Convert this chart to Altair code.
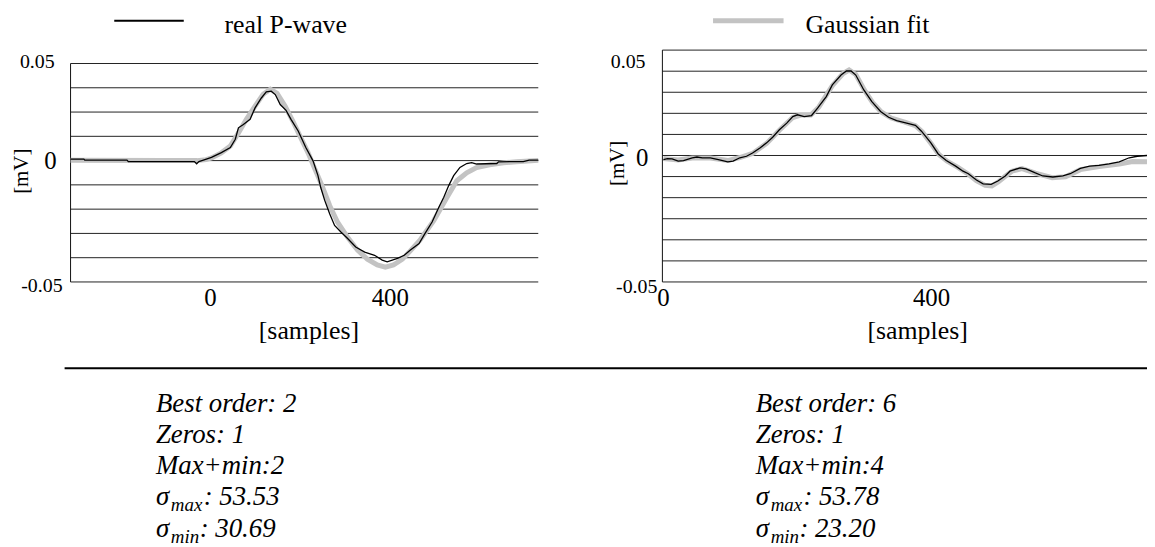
import altair as alt
import pandas as pd

# ---------------- data ----------------
left_real_s = [-311.6, -282, -280, -186, -183, -36, -31, -26, -16, 2,
               24, 44, 55, 62, 73, 88, 99, 113, 124, 135,
               144, 155, 168, 179, 195, 212, 228, 239, 245, 254,
               265, 276, 290, 305, 323, 343, 365, 382, 393, 416,
               431, 444, 464, 477, 493, 508, 519, 530, 541, 555,
               570, 581, 592, 637, 641, 696, 709, 729.3]
left_real_v = [0.0006, 0.0006, 0.0002, 0.0002, -0.0004, -0.0004, -0.0013, -0.0004, 0.0002, 0.0013,
               0.0033, 0.0054, 0.0088, 0.0135, 0.0149, 0.0170, 0.0217, 0.0258, 0.0283, 0.0286,
               0.0272, 0.0231, 0.0207, 0.0170, 0.0122, 0.0054, -0.0001, -0.0062, -0.0110, -0.0164,
               -0.0219, -0.0267, -0.0294, -0.0321, -0.0356, -0.0377, -0.0390, -0.0410, -0.0417, -0.0403,
               -0.0390, -0.0369, -0.0342, -0.0301, -0.0253, -0.0192, -0.0151, -0.0103, -0.0062, -0.0028,
               -0.0012, -0.0008, -0.0014, -0.0012, -0.0005, -0.0004, 0.0002, 0.0002]

left_fit_s = [-311.6, -100, -30, -10, 2, 24, 44, 62, 80, 99,
              117, 133, 148, 166, 183, 199, 217, 232, 248, 265,
              283, 305, 327, 349, 371, 389, 407, 427, 444, 466,
              497, 526, 548, 570, 592, 621, 652, 681, 729.3]
left_fit_v = [0.0001, 0.0, 0.0, 0.0004, 0.0011, 0.0032, 0.0060, 0.0114, 0.0171, 0.0224,
              0.0273, 0.0294, 0.0277, 0.0224, 0.0163, 0.0101, 0.0032, -0.0034, -0.0103, -0.0185,
              -0.0255, -0.0316, -0.0369, -0.0406, -0.0430, -0.0439, -0.0430, -0.0406, -0.0373, -0.0328,
              -0.0246, -0.0152, -0.0083, -0.0050, -0.0029, -0.0017, -0.0009, -0.0005, 0.0001]

right_real_s = [0, 6, 13, 22, 30, 43, 50, 58, 70, 82,
                96, 104, 114, 124, 133, 144, 154, 163, 173, 184,
                193, 200, 210, 221, 230, 243, 252, 265, 273, 280,
                287, 299, 311, 324, 336, 348, 363, 376, 385, 399,
                410, 422, 436, 447, 455, 467, 477, 489, 499, 510,
                517, 532, 541, 554, 566, 581, 596, 607, 622, 636,
                650, 665, 680, 695, 707, 721.5]
right_real_v = [-0.0016, -0.0012, -0.0013, -0.0022, -0.0020, -0.0009, -0.0006, -0.0009, -0.0009, -0.0016,
                -0.0025, -0.0022, -0.0009, -0.0003, 0.0010, 0.0030, 0.0050, 0.0072, 0.0102, 0.0128,
                0.0154, 0.0161, 0.0154, 0.0158, 0.0187, 0.0233, 0.0279, 0.0318, 0.0334, 0.0334,
                0.0318, 0.0259, 0.0213, 0.0174, 0.0151, 0.0138, 0.0128, 0.0119, 0.0096, 0.0050,
                0.0006, -0.0020, -0.0042, -0.0062, -0.0072, -0.0097, -0.0112, -0.0114, -0.0101, -0.0081,
                -0.0062, -0.0049, -0.0053, -0.0068, -0.0081, -0.0085, -0.0081, -0.0072, -0.0051, -0.0042,
                -0.0039, -0.0033, -0.0025, -0.0009, -0.0003, 0.0]

right_fit_s = [0, 22, 43, 70, 96, 114, 133, 154, 173, 193,
               205, 220, 232, 252, 268, 277, 287, 300, 312, 325,
               340, 360, 376, 386, 399, 411, 423, 440, 455, 467,
               480, 490, 500, 510, 520, 535, 555, 580, 600, 622,
               650, 680, 700, 721.5]
right_fit_v = [-0.0012, -0.0018, -0.0010, -0.0010, -0.0020, -0.0008, 0.0008, 0.0048, 0.0100, 0.0150,
               0.0160, 0.0160, 0.0192, 0.0276, 0.0324, 0.0338, 0.0320, 0.0258, 0.0210, 0.0172,
               0.0148, 0.0132, 0.0118, 0.0094, 0.0048, 0.0004, -0.0022, -0.0048, -0.0074, -0.0100,
               -0.0118, -0.0120, -0.0104, -0.0082, -0.0062, -0.0052, -0.0070, -0.0088, -0.0084, -0.0056,
               -0.0044, -0.0034, -0.0024, -0.0025]

left_grid = [-0.05, -0.04, -0.03, -0.02, -0.01, 0.0, 0.01, 0.02, 0.03, 0.04]
right_grid = [-0.05, -0.04167, -0.03333, -0.025, -0.01667, -0.00833, 0.0,
              0.00833, 0.01667, 0.025, 0.03333, 0.04167]

left_xdomain = [-311.6, 729.3]
right_xdomain = [-1.5, 721.5]
left_ydomain = [-0.05, 0.04]
right_ydomain = [-0.05, 0.04167]

x_tick_values = [0, 400]
x_tick_labels = ["0", "400"]
y_tick_labels = ["0.05", "0", "-0.05"]

legend_labels = ["real P-wave", "Gaussian fit"]
axis_titles = ["[mV]", "[samples]"]
left_stats = ["Best order: 2", "Zeros: 1", "Max+min:2"]
right_stats = ["Best order: 6", "Zeros: 1", "Max+min:4"]
sigma_subs = ["max", "min"]
left_sigma_vals = [": 53.53", ": 30.69"]
right_sigma_vals = [": 53.78", ": 23.20"]

FONT = "Times New Roman"
TOP = 8          # top padding of the view (px)
one = pd.DataFrame({"k": [0]})


def Y(v):
    return v - TOP


def panel(real_s, real_v, fit_s, fit_v, grid, xdom, xrng, ydom, yrng, lab):
    xs = alt.Scale(domain=xdom, range=xrng, nice=False, zero=False)
    ys = alt.Scale(domain=ydom, range=[Y(yrng[0]), Y(yrng[1])], nice=False, zero=False)
    real = pd.DataFrame({"s": real_s, "v": real_v})
    fit = pd.DataFrame({"s": fit_s, "v": fit_v})
    gdf = pd.DataFrame({"v": grid})
    xt = pd.DataFrame({"s": x_tick_values, "t": x_tick_labels})

    layers = []
    layers.append(alt.Chart(gdf).mark_rule(color="#222222", strokeWidth=1).encode(
        y=alt.Y("v:Q", scale=ys, axis=None),
        x=alt.X(datum=xdom[0], scale=xs, axis=None),
        x2=alt.X2(datum=xdom[1]),
    ))
    layers.append(alt.Chart(one).mark_rule(color="#111111", strokeWidth=1).encode(
        x=alt.X(datum=xdom[0], scale=xs, axis=None),
        y=alt.Y(datum=ydom[0], scale=ys, axis=None),
        y2=alt.Y2(datum=ydom[1]),
    ))
    layers.append(alt.Chart(fit).mark_line(color="#c3c3c3", strokeWidth=5).encode(
        x=alt.X("s:Q", scale=xs, axis=None),
        y=alt.Y("v:Q", scale=ys, axis=None),
    ))
    layers.append(alt.Chart(real).mark_line(color="#000000", strokeWidth=1.3).encode(
        x=alt.X("s:Q", scale=xs, axis=None),
        y=alt.Y("v:Q", scale=ys, axis=None),
    ))
    layers.append(alt.Chart(xt).mark_text(font=FONT, fontSize=25, align="center",
                                           baseline="alphabetic", color="black").encode(
        x=alt.X("s:Q", scale=xs, axis=None),
        y=alt.value(Y(298)),
        text="t:N",
    ))
    tick_vals = [ydom[1], 0.0, ydom[0]]
    for i, (val, txt) in enumerate(zip(tick_vals, y_tick_labels)):
        fs, dx, dy = lab[i]
        layers.append(alt.Chart(one).mark_text(font=FONT, fontSize=fs, align="right",
                                               baseline="alphabetic", dx=dx, dy=dy,
                                               color="black").encode(
            x=alt.X(datum=xdom[0], scale=xs, axis=None),
            y=alt.Y(datum=val, scale=ys, axis=None),
            text=alt.value(txt),
        ))
    return alt.layer(*layers)


left_panel = panel(left_real_s, left_real_v, left_fit_s, left_fit_v, left_grid,
                   left_xdomain, [63, 534], left_ydomain, [274, 54],
                   [(20, -16, 4.6), (25, -14, 8.4), (20, -8, 10.6)])
right_panel = panel(right_real_s, right_real_v, right_fit_s, right_fit_v, right_grid,
                    right_xdomain, [659, 1147], right_ydomain, [274, 40.5],
                    [(20, -17, 18), (25, -14, 11), (20, -5, 11.6)])

ann = []


def txt(t, x, y, fs, style="normal", align="left", angle=0, baseline="alphabetic"):
    kw = dict(font=FONT, fontSize=fs, fontStyle=style, align=align,
              baseline=baseline, color="black")
    if angle:
        kw["angle"] = angle
    return alt.Chart(one).mark_text(**kw).encode(
        x=alt.value(x), y=alt.value(Y(y)), text=alt.value(t))


# legend
ann.append(alt.Chart(one).mark_rule(color="black", strokeWidth=2).encode(
    x=alt.value(107), x2=alt.value(177), y=alt.value(Y(11))))
ann.append(txt(legend_labels[0], 218, 23.5, 26))
ann.append(alt.Chart(one).mark_rule(color="#c3c3c3", strokeWidth=5).encode(
    x=alt.value(710), x2=alt.value(781), y=alt.value(Y(11))))
ann.append(txt(legend_labels[1], 803, 23.5, 26))

# axis titles
ann.append(txt(axis_titles[0], 14, 162.5, 21, align="center", angle=270, baseline="middle"))
ann.append(txt(axis_titles[0], 614, 154.5, 21, align="center", angle=270, baseline="middle"))
ann.append(txt(axis_titles[1], 303, 331, 26, align="center"))
ann.append(txt(axis_titles[1], 916, 331, 26, align="center"))

# separator rule
ann.append(alt.Chart(one).mark_rule(color="black", strokeWidth=2).encode(
    x=alt.value(57), x2=alt.value(1147), y=alt.value(Y(361))))

# statistics text
line_y = [405, 436, 467, 499, 531]
for x0, stats, svals in [(149, left_stats, left_sigma_vals), (753, right_stats, right_sigma_vals)]:
    for i, t in enumerate(stats):
        ann.append(txt(t, x0, line_y[i], 27, style="italic"))
    for j, (sub, val) in enumerate(zip(sigma_subs, svals)):
        y = line_y[3 + j]
        ann.append(txt("σ", x0, y, 27, style="italic"))
        ann.append(txt(sub, x0 + 15, y + 6, 19, style="italic"))
        ann.append(txt(val, x0 + (48 if sub == "max" else 44), y, 27, style="italic"))

chart = alt.layer(left_panel, right_panel, *ann).resolve_scale(
    x="independent", y="independent"
).properties(
    width=1147, height=539 - TOP,
    autosize=alt.AutoSizeParams(type="none"),
    padding={"top": TOP, "left": 0, "right": 0, "bottom": 0},
).configure_view(stroke=None)

chart.save("out.html", embed_options={"renderer": "svg", "actions": False})
